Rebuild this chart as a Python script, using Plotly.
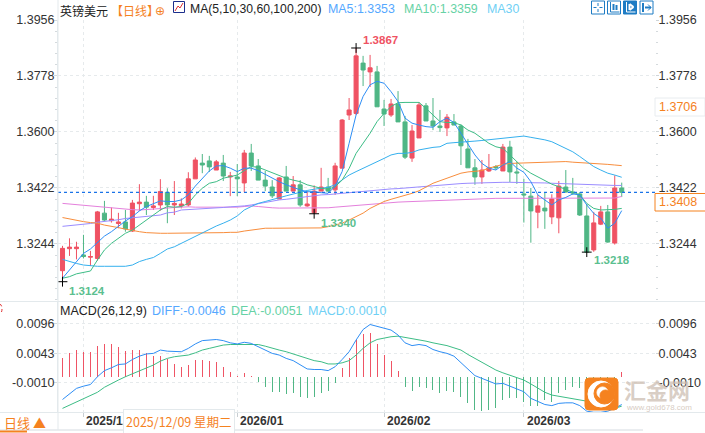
import plotly.graph_objects as go

# daily candles
opens = [1.3159, 1.3229, 1.3229, 1.3209, 1.3202, 1.3198, 1.3342, 1.3318, 1.3309, 1.3314,
         1.3285, 1.3372, 1.3377, 1.3360, 1.3368, 1.3408, 1.3368, 1.3365, 1.3368, 1.3451,
         1.3501, 1.3508, 1.3479, 1.3501, 1.3457, 1.3457, 1.3438, 1.3533, 1.3492, 1.3447,
         1.3425, 1.3387, 1.3457, 1.3412, 1.3432, 1.3365, 1.3343, 1.3412, 1.3425, 1.3416,
         1.3485, 1.3654, 1.3659, 1.3819, 1.3791, 1.3791, 1.3673, 1.3654, 1.3689, 1.3632,
         1.3517, 1.3581, 1.3683, 1.3635, 1.3619, 1.3613, 1.3632, 1.3619, 1.3546, 1.3486,
         1.3457, 1.3476, 1.3490, 1.3476, 1.3552, 1.3473, 1.3403, 1.3396, 1.3345, 1.3358,
         1.3330, 1.3327, 1.3425, 1.3409, 1.3403, 1.3333, 1.3225, 1.3307, 1.3346, 1.3247,
         1.3422]
highs = [1.3238, 1.3262, 1.3251, 1.3273, 1.3222, 1.3349, 1.3381, 1.3360, 1.3343, 1.3352,
         1.3384, 1.3434, 1.3397, 1.3397, 1.3450, 1.3421, 1.3444, 1.3389, 1.3472, 1.3519,
         1.3530, 1.3524, 1.3511, 1.3527, 1.3473, 1.3498, 1.3543, 1.3562, 1.3514, 1.3476,
         1.3447, 1.3457, 1.3492, 1.3460, 1.3447, 1.3412, 1.3430, 1.3486, 1.3454, 1.3502,
         1.3641, 1.3708, 1.3867, 1.3842, 1.3845, 1.3810, 1.3702, 1.3705, 1.3730, 1.3651,
         1.3622, 1.3695, 1.3692, 1.3708, 1.3670, 1.3657, 1.3657, 1.3625, 1.3578, 1.3514,
         1.3511, 1.3530, 1.3495, 1.3562, 1.3572, 1.3505, 1.3451, 1.3422, 1.3400, 1.3407,
         1.3402, 1.3444, 1.3479, 1.3454, 1.3409, 1.3371, 1.3346, 1.3365, 1.3368, 1.3462,
         1.3439]
lows = [1.3124, 1.3206, 1.3195, 1.3198, 1.3174, 1.3191, 1.3317, 1.3312, 1.3294, 1.3283,
        1.3282, 1.3349, 1.3336, 1.3352, 1.3350, 1.3310, 1.3336, 1.3357, 1.3363, 1.3451,
        1.3469, 1.3473, 1.3479, 1.3444, 1.3396, 1.3396, 1.3409, 1.3476, 1.3447, 1.3412,
        1.3390, 1.3387, 1.3412, 1.3412, 1.3362, 1.3362, 1.3340, 1.3412, 1.3409, 1.3400,
        1.3485, 1.3638, 1.3654, 1.3746, 1.3743, 1.3680, 1.3619, 1.3648, 1.3632, 1.3514,
        1.3505, 1.3581, 1.3635, 1.3606, 1.3600, 1.3587, 1.3622, 1.3495, 1.3486, 1.3432,
        1.3435, 1.3473, 1.3479, 1.3476, 1.3441, 1.3435, 1.3312, 1.3248, 1.3294, 1.3292,
        1.3307, 1.3278, 1.3407, 1.3400, 1.3333, 1.3218, 1.3219, 1.3304, 1.3248, 1.3242,
        1.3393]
closes = [1.3230, 1.3234, 1.3234, 1.3204, 1.3204, 1.3346, 1.3320, 1.3323, 1.3314, 1.3292,
          1.3374, 1.3377, 1.3361, 1.3365, 1.3411, 1.3368, 1.3373, 1.3371, 1.3451, 1.3511,
          1.3495, 1.3489, 1.3505, 1.3460, 1.3460, 1.3451, 1.3533, 1.3492, 1.3447, 1.3428,
          1.3397, 1.3454, 1.3412, 1.3432, 1.3368, 1.3371, 1.3412, 1.3425, 1.3412, 1.3492,
          1.3638, 1.3670, 1.3842, 1.3797, 1.3804, 1.3680, 1.3657, 1.3689, 1.3632, 1.3520,
          1.3603, 1.3686, 1.3635, 1.3619, 1.3614, 1.3647, 1.3622, 1.3556, 1.3486, 1.3457,
          1.3479, 1.3486, 1.3486, 1.3552, 1.3473, 1.3470, 1.3400, 1.3349, 1.3365, 1.3349,
          1.3387, 1.3428, 1.3409, 1.3406, 1.3336, 1.3218, 1.3311, 1.3346, 1.3250, 1.3422,
          1.3408]

ma5 = [1.3135, 1.3161, 1.3186, 1.3214, 1.3228, 1.3250, 1.3269, 1.3283, 1.3301, 1.3317,
       1.3331, 1.3349, 1.3363, 1.3373, 1.3381, 1.3379, 1.3379, 1.3384, 1.3400, 1.3428,
       1.3453, 1.3476, 1.3492, 1.3493, 1.3485, 1.3474, 1.3485, 1.3485, 1.3477, 1.3465,
       1.3453, 1.3442, 1.3432, 1.3423, 1.3416, 1.3410, 1.3410, 1.3407, 1.3405, 1.3428,
       1.3474, 1.3564, 1.3654, 1.3713, 1.3750, 1.3761, 1.3755, 1.3728, 1.3697, 1.3644,
       1.3628, 1.3622, 1.3617, 1.3615, 1.3633, 1.3644, 1.3630, 1.3596, 1.3562, 1.3527,
       1.3500, 1.3485, 1.3479, 1.3495, 1.3506, 1.3485, 1.3472, 1.3442, 1.3400, 1.3384,
       1.3368, 1.3384, 1.3392, 1.3403, 1.3400, 1.3368, 1.3341, 1.3326, 1.3294, 1.3310,
       1.3350]
ma10 = [1.3135, 1.3140, 1.3149, 1.3153, 1.3158, 1.3193, 1.3225, 1.3246, 1.3262, 1.3278,
        1.3288, 1.3304, 1.3320, 1.3336, 1.3352, 1.3363, 1.3361, 1.3363, 1.3373, 1.3400,
        1.3421, 1.3437, 1.3442, 1.3453, 1.3458, 1.3463, 1.3477, 1.3490, 1.3488, 1.3479,
        1.3471, 1.3463, 1.3453, 1.3447, 1.3442, 1.3432, 1.3426, 1.3421, 1.3418, 1.3426,
        1.3447, 1.3484, 1.3532, 1.3564, 1.3596, 1.3633, 1.3659, 1.3681, 1.3693, 1.3694,
        1.3693, 1.3694, 1.3675, 1.3654, 1.3633, 1.3630, 1.3630, 1.3622, 1.3606, 1.3596,
        1.3580, 1.3564, 1.3553, 1.3548, 1.3527, 1.3506, 1.3484, 1.3469, 1.3458, 1.3445,
        1.3434, 1.3426, 1.3418, 1.3410, 1.3400, 1.3373, 1.3357, 1.3352, 1.3352, 1.3354,
        1.3357]
ma30 = [1.3195, 1.3188, 1.3182, 1.3177, 1.3174, 1.3173, 1.3173, 1.3173, 1.3173, 1.3173,
        1.3177, 1.3188, 1.3195, 1.3201, 1.3214, 1.3228, 1.3235, 1.3246, 1.3257, 1.3269,
        1.3280, 1.3291, 1.3301, 1.3310, 1.3320, 1.3333, 1.3352, 1.3363, 1.3373, 1.3379,
        1.3386, 1.3391, 1.3397, 1.3403, 1.3407, 1.3414, 1.3418, 1.3421, 1.3424, 1.3432,
        1.3447, 1.3463, 1.3474, 1.3484, 1.3495, 1.3506, 1.3516, 1.3527, 1.3532, 1.3532,
        1.3535, 1.3543, 1.3548, 1.3551, 1.3553, 1.3564, 1.3566, 1.3567, 1.3569, 1.3571,
        1.3573, 1.3575, 1.3578, 1.3579, 1.3582, 1.3585, 1.3587, 1.3583, 1.3580, 1.3575,
        1.3569, 1.3559, 1.3548, 1.3537, 1.3522, 1.3506, 1.3490, 1.3479, 1.3469, 1.3463,
        1.3456]
ma60 = [1.3328, 1.3323, 1.3318, 1.3315, 1.3312, 1.3310, 1.3304, 1.3301, 1.3296, 1.3291,
        1.3286, 1.3283, 1.3280, 1.3278, 1.3278, 1.3278, 1.3278, 1.3278, 1.3278, 1.3279,
        1.3279, 1.3279, 1.3280, 1.3280, 1.3281, 1.3281, 1.3285, 1.3288, 1.3291, 1.3294,
        1.3294, 1.3294, 1.3294, 1.3294, 1.3294, 1.3294, 1.3294, 1.3295, 1.3299, 1.3304,
        1.3310, 1.3320, 1.3331, 1.3342, 1.3357, 1.3368, 1.3379, 1.3386, 1.3392, 1.3399,
        1.3405, 1.3413, 1.3424, 1.3437, 1.3445, 1.3453, 1.3460, 1.3469, 1.3473, 1.3476,
        1.3477, 1.3485, 1.3492, 1.3497, 1.3500, 1.3501, 1.3502, 1.3502, 1.3503, 1.3504,
        1.3506, 1.3506, 1.3506, 1.3504, 1.3503, 1.3502, 1.3500, 1.3498, 1.3497, 1.3495,
        1.3493]
ma100 = [1.3300, 1.3302, 1.3304, 1.3307, 1.3309, 1.3313, 1.3315, 1.3317, 1.3321, 1.3325,
         1.3327, 1.3330, 1.3331, 1.3334, 1.3336, 1.3343, 1.3345, 1.3352, 1.3353, 1.3354,
         1.3355, 1.3357, 1.3358, 1.3360, 1.3362, 1.3363, 1.3365, 1.3368, 1.3372, 1.3378,
         1.3381, 1.3384, 1.3386, 1.3389, 1.3392, 1.3396, 1.3398, 1.3400, 1.3401, 1.3403,
         1.3405, 1.3407, 1.3410, 1.3412, 1.3414, 1.3417, 1.3418, 1.3419, 1.3420, 1.3422,
         1.3423, 1.3424, 1.3426, 1.3428, 1.3430, 1.3432, 1.3434, 1.3436, 1.3437, 1.3438,
         1.3439, 1.3440, 1.3440, 1.3440, 1.3440, 1.3440, 1.3440, 1.3440, 1.3439, 1.3438,
         1.3437, 1.3436, 1.3436, 1.3435, 1.3434, 1.3433, 1.3432, 1.3431, 1.3431, 1.3430,
         1.3430]
ma200 = [1.3373, 1.3371, 1.3369, 1.3366, 1.3364, 1.3361, 1.3359, 1.3358, 1.3356, 1.3354,
         1.3353, 1.3352, 1.3353, 1.3355, 1.3357, 1.3358, 1.3360, 1.3362, 1.3362, 1.3361,
         1.3361, 1.3361, 1.3360, 1.3360, 1.3360, 1.3361, 1.3363, 1.3365, 1.3363, 1.3360,
         1.3359, 1.3358, 1.3358, 1.3358, 1.3358, 1.3358, 1.3358, 1.3358, 1.3359, 1.3361,
         1.3363, 1.3365, 1.3367, 1.3369, 1.3371, 1.3373, 1.3375, 1.3376, 1.3377, 1.3378,
         1.3379, 1.3380, 1.3381, 1.3382, 1.3383, 1.3384, 1.3385, 1.3386, 1.3387, 1.3388,
         1.3389, 1.3389, 1.3389, 1.3389, 1.3389, 1.3389, 1.3389, 1.3389, 1.3389, 1.3389,
         1.3389, 1.3389, 1.3389, 1.3389, 1.3389, 1.3389, 1.3389, 1.3389, 1.3389, 1.3390,
         1.3395]

macd_hist = [0.0034, 0.0044, 0.0049, 0.0046, 0.0045, 0.0057, 0.0060, 0.0060, 0.0055, 0.0048,
             0.0049, 0.0049, 0.0044, 0.0038, 0.0038, 0.0033, 0.0024, 0.0018, 0.0022, 0.0032,
             0.0032, 0.0029, 0.0028, 0.0019, 0.0010, 0.0002, 0.0008, 0.0002, -0.0008, -0.0017,
             -0.0026, -0.0026, -0.0030, -0.0028, -0.0036, -0.0038, -0.0035, -0.0028, -0.0024, -0.0011,
             0.0016, 0.0034, 0.0067, 0.0078, 0.0080, 0.0060, 0.0040, 0.0030, 0.0012, -0.0018,
             -0.0024, -0.0017, -0.0020, -0.0023, -0.0028, -0.0024, -0.0026, -0.0035, -0.0047, -0.0059,
             -0.0060, -0.0058, -0.0056, -0.0041, -0.0038, -0.0038, -0.0044, -0.0052, -0.0052, -0.0041,
             -0.0044, -0.0028, -0.0022, -0.0018, -0.0020, -0.0018, -0.0017, -0.0016, -0.0014, -0.0011,
             0.0010]
macd_diff = [-0.0040, -0.0030, -0.0020, -0.0016, -0.0013, 0.0001, 0.0012, 0.0017, 0.0023, 0.0024,
             0.0032, 0.0038, 0.0042, 0.0043, 0.0049, 0.0047, 0.0046, 0.0046, 0.0052, 0.0060,
             0.0066, 0.0067, 0.0068, 0.0066, 0.0062, 0.0060, 0.0063, 0.0061, 0.0055, 0.0048,
             0.0043, 0.0040, 0.0034, 0.0030, 0.0022, 0.0015, 0.0014, 0.0014, 0.0012, 0.0019,
             0.0032, 0.0046, 0.0067, 0.0086, 0.0095, 0.0092, 0.0088, 0.0085, 0.0076, 0.0062,
             0.0057, 0.0059, 0.0057, 0.0050, 0.0046, 0.0043, 0.0038, 0.0026, 0.0014, 0.0003,
             -0.0002, -0.0007, -0.0012, -0.0011, -0.0016, -0.0020, -0.0026, -0.0038, -0.0044, -0.0049,
             -0.0051, -0.0047, -0.0046, -0.0046, -0.0051, -0.0061, -0.0063, -0.0063, -0.0061, -0.0056,
             -0.0049]
macd_dea = [-0.0056, -0.0050, -0.0044, -0.0039, -0.0033, -0.0027, -0.0018, -0.0011, -0.0005, 0.0001,
            0.0006, 0.0011, 0.0017, 0.0022, 0.0029, 0.0034, 0.0037, 0.0038, 0.0040, 0.0044,
            0.0049, 0.0052, 0.0055, 0.0058, 0.0059, 0.0059, 0.0059, 0.0060, 0.0059, 0.0056,
            0.0052, 0.0049, 0.0046, 0.0042, 0.0038, 0.0034, 0.0030, 0.0028, 0.0024, 0.0024,
            0.0026, 0.0030, 0.0040, 0.0052, 0.0062, 0.0068, 0.0071, 0.0073, 0.0074, 0.0072,
            0.0070, 0.0067, 0.0065, 0.0062, 0.0060, 0.0057, 0.0053, 0.0049, 0.0041, 0.0034,
            0.0026, 0.0019, 0.0013, 0.0008, 0.0004, 0.0000, -0.0005, -0.0012, -0.0020, -0.0027,
            -0.0032, -0.0034, -0.0036, -0.0038, -0.0040, -0.0043, -0.0050, -0.0056, -0.0057, -0.0056,
            -0.0052]

price_ticks = [1.3956, 1.3778, 1.3600, 1.3422, 1.3244]
macd_ticks = [0.0096, 0.0043, -0.0010]
date_ticks = [3, 25, 46, 66]
date_labels = ["2025/12", "2026/01", "2026/02", "2026/03"]
last_price = 1.3408
float_price = 1.3706
extremes = [(42, 1.3867), (0, 1.3124), (36, 1.3340), (75, 1.3218)]

RED = "#ef5263"
GREEN = "#4fb685"
GRID = "#e6eaec"
FONT = "Liberation Sans, Arial, Noto Sans CJK SC, sans-serif"
CJK = "Noto Sans CJK SC, Liberation Sans, sans-serif"
W, H = 705, 433

days = list(range(len(closes)))
# alpha just under 1 makes plotly round the thin bars to whole pixels
macd_colors = ["rgba(239,82,99,0.99)" if v > 0 else "rgba(79,182,133,0.99)" for v in macd_hist]


def px(x):
    return x / W


def py(y):
    return 1 - y / H


fig = go.Figure()

fig.add_trace(go.Candlestick(
    x=days, open=opens, high=highs, low=lows, close=closes,
    increasing=dict(line=dict(color=RED, width=1), fillcolor=RED),
    decreasing=dict(line=dict(color=GREEN, width=1), fillcolor=GREEN),
    whiskerwidth=0, showlegend=False, hoverinfo="skip",
))
for vals, color in [(ma200, "#e480dc"), (ma100, "#9a8cff"), (ma60, "#f88d3c"),
                    (ma30, "#35b0ee"), (ma10, "#3dbd86"), (ma5, "#2e8ef5")]:
    fig.add_trace(go.Scatter(x=days, y=vals, mode="lines", line=dict(color=color, width=1),
                             showlegend=False, hoverinfo="skip"))
fig.add_trace(go.Scatter(
    x=[e[0] for e in extremes], y=[e[1] for e in extremes], mode="markers",
    marker=dict(symbol="cross-thin", size=7, line=dict(color="black", width=1)),
    showlegend=False, hoverinfo="skip",
))
# right hand price axis needs a trace of its own
fig.add_trace(go.Scatter(x=[None], y=[None], yaxis="y2", showlegend=False))

fig.add_trace(go.Bar(x=days, y=macd_hist, width=0.143, marker=dict(color=macd_colors, line_width=0),
                     xaxis="x2", yaxis="y3", showlegend=False, hoverinfo="skip"))
fig.add_trace(go.Scatter(x=days, y=macd_dea, mode="lines", line=dict(color="#3dbd86", width=1),
                         xaxis="x2", yaxis="y3", showlegend=False, hoverinfo="skip"))
fig.add_trace(go.Scatter(x=days, y=macd_diff, mode="lines", line=dict(color="#2e8ef5", width=1),
                         xaxis="x2", yaxis="y3", showlegend=False, hoverinfo="skip"))
fig.add_trace(go.Scatter(x=[None], y=[None], xaxis="x2", yaxis="y4", showlegend=False))

xdomain = [px(58), px(655)]
xrange = [-0.644, 84.76]
main_range = [1.3422 - 112 * 0.000318, 1.3956]
macd_range = [-0.00625, 0.01355]
tick_font = dict(family=FONT, size=12.5, color="#333333")
minor = dict(ticks="outside", ticklen=2, tickcolor="#d5dadd", tick0=1.3244, dtick=0.00356, showgrid=False)

fig.update_layout(
    width=W, height=H, margin=dict(l=0, r=0, t=0, b=0, autoexpand=False),
    paper_bgcolor="white", plot_bgcolor="white",
    font=dict(family=FONT, size=12, color="#333333"),
    bargap=0, boxgap=0.42, boxgroupgap=0,
    xaxis=dict(domain=xdomain, range=xrange, anchor="y", rangeslider=dict(visible=False),
               tickmode="array", tickvals=date_ticks, showticklabels=False, ticks="",
               showgrid=True, gridcolor=GRID, griddash="dot", zeroline=False),
    yaxis=dict(domain=[py(300), py(20)], range=main_range, side="left",
               tickmode="array", tickvals=price_ticks, ticktext=[f"{v:.4f}" for v in price_ticks],
               ticks="outside", ticklen=3, ticklabelstandoff=-3, tickcolor="#d5dadd", tickfont=tick_font, minor=minor,
               showline=True, linecolor="#e3e9ec", showgrid=True, gridcolor=GRID, griddash="dot",
               zeroline=False),
    yaxis2=dict(domain=[py(300), py(20)], range=main_range, side="right", overlaying="y", anchor="x",
                tickmode="array", tickvals=price_ticks, ticktext=[f"{v:.4f}" for v in price_ticks],
                ticks="outside", ticklen=3, ticklabelstandoff=-3, tickcolor="#cfd5d8", tickfont=tick_font, minor=minor,
                showgrid=False, zeroline=False),
    xaxis2=dict(domain=xdomain, range=xrange, anchor="y3",
                tickmode="array", tickvals=date_ticks, showticklabels=False, ticks="outside",
                ticklen=4, tickcolor="#c8ced2", showline=True, linecolor="#e3e9ec",
                showgrid=True, gridcolor=GRID, griddash="dot", zeroline=False),
    yaxis3=dict(domain=[py(412), py(302)], range=macd_range, side="left", anchor="x2",
                tickmode="array", tickvals=macd_ticks, ticktext=[f"{v:.4f}" for v in macd_ticks],
                ticks="outside", ticklen=3, ticklabelstandoff=-3, tickcolor="#d5dadd", tickfont=tick_font,
                showline=True, linecolor="#e3e9ec", showgrid=True, gridcolor=GRID, griddash="dot",
                zeroline=False),
    yaxis4=dict(domain=[py(412), py(302)], range=macd_range, side="right", overlaying="y3", anchor="x2",
                tickmode="array", tickvals=macd_ticks, ticktext=[f"{v:.4f}" for v in macd_ticks],
                ticks="outside", ticklen=3, ticklabelstandoff=-3, tickcolor="#cfd5d8", tickfont=tick_font,
                showgrid=False, zeroline=False),
)

# last price line
fig.add_shape(type="line", xref="paper", yref="y", x0=px(58), x1=px(655), y0=last_price, y1=last_price,
              line=dict(color="#1a73e8", width=1.2, dash="3px,3px"))


def label(x, y, text, color="#333333", size=12, anchor="left", bold=False, family=FONT, **kw):
    if bold:
        text = f"<b>{text}</b>"
    fig.add_annotation(xref="paper", yref="paper", x=px(x), y=py(y), text=text, showarrow=False,
                       xanchor=anchor, yanchor="middle", font=dict(family=family, size=size, color=color),
                       borderpad=0, **kw)


def box(x0, y0, x1, y1, line="#e3e9ec", fill=None, width=1, kind="rect", layer="above", dash=None):
    fig.add_shape(type=kind, xref="paper", yref="paper", x0=px(x0), x1=px(x1), y0=py(y0), y1=py(y1),
                  line=dict(color=line, width=width, dash=dash), fillcolor=fill, layer=layer)


def seg(x0, y0, x1, y1, color, width=1):
    fig.add_shape(type="line", xref="paper", yref="paper", x0=px(x0), x1=px(x1), y0=py(y0), y1=py(y1),
                  line=dict(color=color, width=width))


# header row
label(59, 10, "英镑美元", "#222222", 12, family=CJK)
label(110, 10, "【日线】", "#f5821f", 12, family=CJK)
label(160, 11, "⊕", "#f5821f", 12, anchor="center", family="DejaVu Sans")
box(173.5, 1.5, 184.5, 12.5, line="#1c2f8c")
fig.add_shape(type="path", xref="paper", yref="paper", line=dict(color="#d33", width=1),
              path=f"M {px(175)} {py(11)} L {px(178)} {py(6)} L {px(180)} {py(8)} L {px(183)} {py(3)}")
label(189, 9, "MA(5,10,30,60,100,200)", "#222222", 12.2)
label(327, 9, "MA5:1.3353", "#55a8ff", 12.4)
label(403, 9, "MA10:1.3359", "#66d2a5", 12.4)
label(486, 9, "MA30", "#6fd0f5", 12.4)

# toolbar buttons
for i, x0 in enumerate([591.5, 607.5, 623.5, 640]):
    filled = i == 2
    ink = "white" if filled else "#1f7cc4"
    box(x0, 1, x0 + 13, 14, line="#1f7cc4", fill="#1f7cc4" if filled else "white")
    mid = x0 + 6.5
    if i == 0:
        seg(mid, 3, mid, 6, ink)
        seg(mid, 9, mid, 12, ink)
        seg(x0 + 2, 7.5, x0 + 5, 7.5, ink)
        seg(x0 + 8, 7.5, x0 + 11, 7.5, ink)
    elif i == 3:
        seg(x0 + 3, 3, x0 + 3, 12, ink, 2)
        seg(x0 + 5, 7.5, x0 + 11, 7.5, ink, 2)
        seg(x0 + 8, 4.5, x0 + 11, 7.5, ink)
        seg(x0 + 8, 10.5, x0 + 11, 7.5, ink)
    else:
        seg(x0 + 3, 2, x0 + 3, 12, ink)
        seg(x0 + 3, 12, x0 + 12, 12, ink)
        seg(x0 + 6, 4, x0 + 6, 10, ink, 2)
        seg(x0 + 9, 5, x0 + 9, 10, ink, 2) if i == 1 else seg(x0 + 6, 4, x0 + 10, 7, ink, 2)
        if i == 2:
            seg(x0 + 10, 7, x0 + 6, 10, ink, 2)

# high and low labels
label(362, 40, "1.3867", RED, 11.5, bold=True)
label(68, 291, "1.3124", "#5bbf90", 11.5, bold=True)
label(320, 223, "1.3340", "#5bbf90", 11.5, bold=True)
label(593, 260, "1.3218", "#5bbf90", 11.5, bold=True)

# floating price boxes on the right
box(655, 98, 705, 116, line="#e8ecef", fill="white")
label(658, 107, f"{float_price:.4f}", "#f5821f", 12.5)
box(655, 193.5, 706, 211, line="#f5821f", fill="white")
label(658, 202, f"{last_price:.4f}", "#f5821f", 12.5)

# macd header
label(59, 311, "MACD(26,12,9)", "#222222", 12.5)
label(151, 311, "DIFF:-0.0046", "#55a8ff", 12.5)
label(230, 311, "DEA:-0.0051", "#66d2a5", 12.5)
label(307, 311, "MACD:0.0010", "#6fd0f5", 12.5)

# panel separators
seg(0, 301.5, 705, 301.5, "#e3e9ec")
seg(0, 412.5, 705, 412.5, "#e3e9ec")
seg(0, 430, 643, 430, "#d5dbe0")
seg(58, 0, 58, 430, "#e3e9ec")
box(-3, 304, 2, 314, line="#e03030", kind="circle", dash="dot")

# date axis labels
for d, text in zip(date_ticks, date_labels):
    fig.add_annotation(xref="x", yref="paper", x=d, y=py(421), text=f"<b>{text}</b>", showarrow=False,
                       xanchor="left", yanchor="middle", xshift=1, font=dict(family=FONT, size=12, color="#333333"))
fig.add_annotation(xref="paper", yref="paper", x=px(123), y=py(421.5), xanchor="left", yanchor="middle",
                   text="2025/12/09 星期二", showarrow=False, bgcolor="white", bordercolor="#e3e9ec", borderwidth=1,
                   borderpad=2, font=dict(family=CJK, size=12.5, color="#f5821f"))
label(3, 422, "日线 ▲", "#f5821f", 13, family=CJK)
seg(0, 431.5, 27, 431.5, "#f5821f", 2)

# watermark
x0, y0, x1, y1 = 585, 378, 618, 410
fig.add_shape(type="path", xref="paper", yref="paper", fillcolor="#f5821f", line=dict(color="#f5821f", width=1),
              path=f"M {px(x0 + 4)} {py(y0)} L {px(x1 - 4)} {py(y0)} Q {px(x1)} {py(y0)} {px(x1)} {py(y0 + 4)} "
                   f"L {px(x1)} {py(y1 - 4)} Q {px(x1)} {py(y1)} {px(x1 - 4)} {py(y1)} "
                   f"L {px(x0 + 4)} {py(y1)} Q {px(x0)} {py(y1)} {px(x0)} {py(y1 - 4)} "
                   f"L {px(x0)} {py(y0 + 4)} Q {px(x0)} {py(y0)} {px(x0 + 4)} {py(y0)} Z")
box(588, 381, 614, 407, line="white", fill="white", kind="circle")
box(594, 383, 615, 404, line="#f5821f", fill="#f5821f", kind="circle")
box(597, 387, 608, 398, line="white", fill="white", kind="circle")
box(600, 390, 611, 401, line="#f5821f", fill="#f5821f", kind="circle")
label(623, 389, "<b>汇金网</b>", "rgba(205,190,178,0.75)", 22, family=CJK)
label(625, 407, "www.gold678.com", "rgba(205,190,178,0.8)", 8)

# the page keeps the browser's default body margin otherwise
fig.write_html("out.html", config={"displayModeBar": False},
               post_script="document.body.style.margin='0';document.body.style.overflow='hidden';")
